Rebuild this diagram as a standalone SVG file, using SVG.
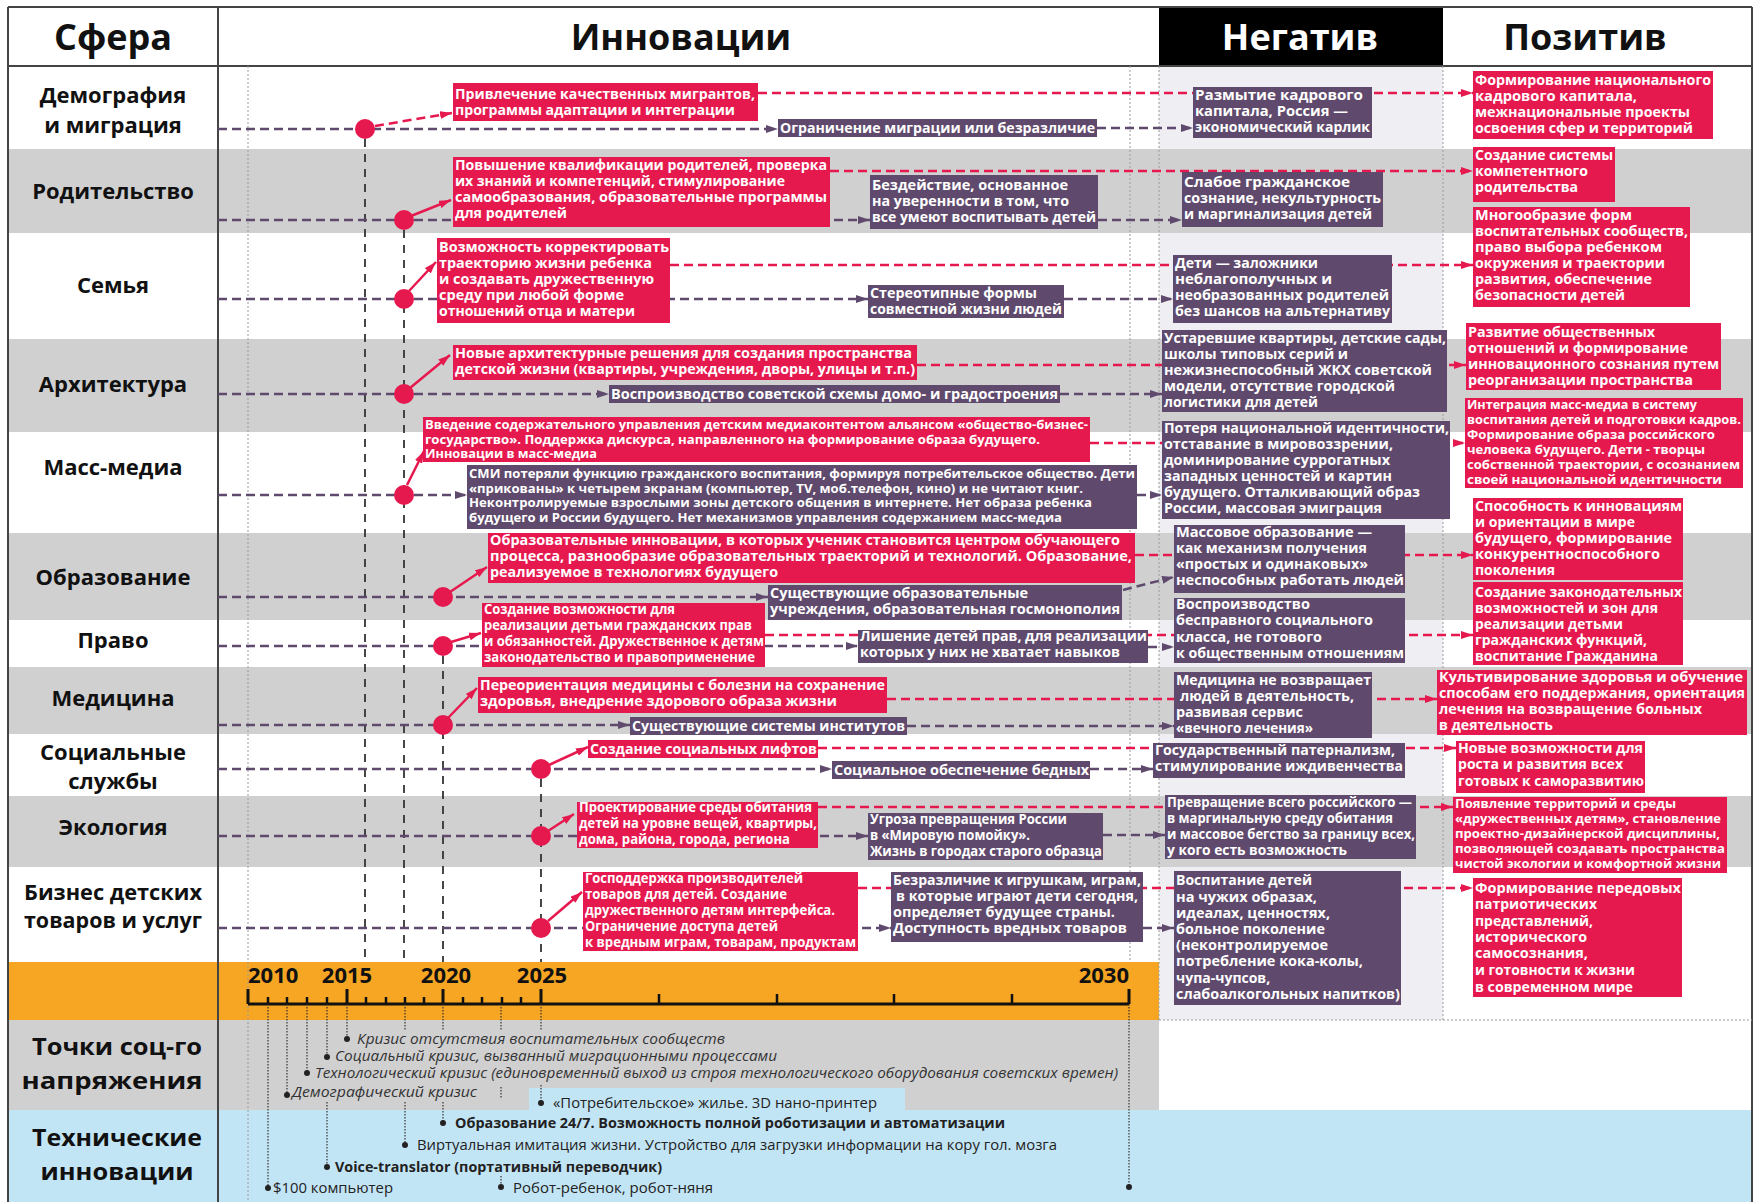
<svg xmlns="http://www.w3.org/2000/svg" width="1758" height="1202" viewBox="0 0 1758 1202">
<style>
.lbl{font-family:'Open Sans','Noto Sans',sans-serif;font-weight:700;font-size:22px;fill:#111;text-anchor:middle}
.lbl2{font-family:'Open Sans','Noto Sans',sans-serif;font-weight:700;font-size:24px;fill:#111;text-anchor:middle}
.hdr{font-family:'Open Sans','Noto Sans',sans-serif;font-weight:700;font-size:36px;fill:#111;text-anchor:middle}
.t{font-family:'Open Sans','Noto Sans',sans-serif;font-weight:700;font-size:14px;fill:#fff}
.ts{font-size:12.5px}
.tm{font-size:13px}
.r{fill:#e6194f}
.p{fill:#5f4a6d}
.yr{font-family:'Open Sans','Noto Sans',sans-serif;font-weight:700;font-size:22px;fill:#111}
.it{font-family:'Open Sans','Noto Sans',sans-serif;font-style:italic;font-size:15px;fill:#333}
.tr{font-family:'Open Sans','Noto Sans',sans-serif;font-size:15px;fill:#222}
.tb{font-weight:700}
.pd{fill:none;stroke:#5f4a6d;stroke-width:2.5;stroke-dasharray:9 5}
.rd{fill:none;stroke:#e6194f;stroke-width:2.5;stroke-dasharray:9 5}
.rs{fill:none;stroke:#e6194f;stroke-width:2.5}
.vd{fill:none;stroke:#333;stroke-width:1.8;stroke-dasharray:8 7}
.ld{fill:none;stroke:#9a9a9a;stroke-width:1;stroke-dasharray:2 2}
.dd{fill:none;stroke:#333;stroke-width:1.2;stroke-dasharray:1.5 1.5}
.dot{fill:#e6194f}
.sd{fill:#222}
</style>
<defs>
<marker id="ap" markerUnits="userSpaceOnUse" markerWidth="12" markerHeight="8" refX="12" refY="4" orient="auto"><path d="M0,0L12,4L0,8z" fill="#5f4a6d"/></marker>
<marker id="ar" markerUnits="userSpaceOnUse" markerWidth="12" markerHeight="8" refX="12" refY="4" orient="auto"><path d="M0,0L12,4L0,8z" fill="#e6194f"/></marker>
</defs>

<g id="background">
<rect x="8" y="7" width="1744" height="1195" fill="#fff"/>
<rect x="1159" y="66" width="284" height="954" fill="#efeef2"/>
<rect x="8" y="149" width="1744" height="84" fill="#d0d0d1"/>
<rect x="8" y="339" width="1744" height="93" fill="#d0d0d1"/>
<rect x="8" y="533" width="1744" height="87" fill="#d0d0d1"/>
<rect x="8" y="667" width="1744" height="67" fill="#d0d0d1"/>
<rect x="8" y="796" width="1744" height="71" fill="#d0d0d1"/>
<rect x="8" y="962" width="1151" height="58" fill="#f6a623"/>
<rect x="8" y="1020" width="1151" height="90" fill="#d0d0d1"/>
<rect x="8" y="1110" width="1744" height="92" fill="#c2e5f5"/>
<rect x="529" y="1088" width="376" height="23" fill="#c2e5f5"/>
<rect x="1159" y="7" width="284" height="59" fill="#000"/>
<path d="M8,7H1752M8,66H1752M8,7V1202M1752,7V1202M218,7V1202" fill="none" stroke="#444" stroke-width="2"/>
<path class="ld" d="M248,66V1202M1130,66V962M1159,66V1020M1443,66V1020M1159,1020H1752"/>
</g>

<g id="headers">
<text class="hdr" x="113" y="50">Сфера</text>
<text class="hdr" x="681" y="50">Инновации</text>
<text class="hdr" x="1300" y="50" style="fill:#fff">Негатив</text>
<text class="hdr" x="1585" y="50">Позитив</text>
</g>

<g id="row-labels">
<text class="lbl" x="113" y="103">Демография</text>
<text class="lbl" x="113" y="133">и миграция</text>
<text class="lbl" x="113" y="199">Родительство</text>
<text class="lbl" x="113" y="293">Семья</text>
<text class="lbl" x="113" y="392">Архитектура</text>
<text class="lbl" x="113" y="475">Масс-медиа</text>
<text class="lbl" x="113" y="585">Образование</text>
<text class="lbl" x="113" y="648">Право</text>
<text class="lbl" x="113" y="706">Медицина</text>
<text class="lbl" x="113" y="760">Социальные</text>
<text class="lbl" x="113" y="789">службы</text>
<text class="lbl" x="113" y="835">Экология</text>
<text class="lbl" x="113" y="900" textLength="178" lengthAdjust="spacingAndGlyphs">Бизнес детских</text>
<text class="lbl" x="113" y="928" textLength="178" lengthAdjust="spacingAndGlyphs">товаров и услуг</text>
<text class="lbl2" x="117" y="1055" textLength="170" lengthAdjust="spacingAndGlyphs">Точки соц-го</text>
<text class="lbl2" x="112" y="1089" textLength="181" lengthAdjust="spacingAndGlyphs">напряжения</text>
<text class="lbl2" x="117" y="1146" textLength="170" lengthAdjust="spacingAndGlyphs">Технические</text>
<text class="lbl2" x="117" y="1180" textLength="153" lengthAdjust="spacingAndGlyphs">инновации</text>
</g>

<g id="timeline">
<path d="M248,1004H1129" stroke="#111" stroke-width="3"/>
<path d="M248,989V1004M347,989V1004M443,989V1004M541,989V1004M1129,989V1004" stroke="#111" stroke-width="3"/>
<path d="M268,997V1004M287,997V1004M307,997V1004M327,997V1004M366,997V1004M386,997V1004M405,997V1004M424,997V1004M463,997V1004M482,997V1004M502,997V1004M521,997V1004M659,994V1004M777,994V1004M894,994V1004M1012,994V1004" stroke="#111" stroke-width="2.5"/>
<text class="yr" x="248" y="983">2010</text>
<text class="yr" x="347" y="983" text-anchor="middle">2015</text>
<text class="yr" x="446" y="983" text-anchor="middle">2020</text>
<text class="yr" x="542" y="983" text-anchor="middle">2025</text>
<text class="yr" x="1129" y="983" text-anchor="end">2030</text>
</g>

<g id="connectors">
<path class="vd" d="M365,139V962M404,230V962M443,656V962M541,779V962"/>
<path class="dd" d="M268,1004V1188M287,1004V1095M307,1004V1073M327,1004V1057M327,1102V1167M347,1004V1039M405,1004V1030M405,1102V1145M443,1004V1030M443,1102V1123M501,1004V1031M501,1087V1098M501,1176V1187M541,1004V1030M541,1085V1103M1129,1004V1187"/>
<path class="rd" marker-end="url(#ar)" d="M758,93H1473"/>
<path class="rd" marker-end="url(#ar)" d="M830,171H1473"/>
<path class="rd" marker-end="url(#ar)" d="M670,265H1473"/>
<path class="rd" marker-end="url(#ar)" d="M917,365H1466"/>
<path class="rd" marker-end="url(#ar)" d="M1090,443H1465"/>
<path class="rd" marker-end="url(#ar)" d="M1135,555H1473"/>
<path class="rd" marker-end="url(#ar)" d="M765,635H1473"/>
<path class="rd" marker-end="url(#ar)" d="M887,699H1437"/>
<path class="rd" marker-end="url(#ar)" d="M818,748H1456"/>
<path class="rd" marker-end="url(#ar)" d="M818,807H1453"/>
<path class="rd" marker-end="url(#ar)" d="M858,888H1473"/>
<path class="pd" marker-end="url(#ap)" d="M218,129H778"/>
<path class="pd" marker-end="url(#ap)" d="M1097,128H1193"/>
<path class="pd" marker-end="url(#ap)" d="M218,220H870"/>
<path class="pd" marker-end="url(#ap)" d="M1098,220H1182"/>
<path class="pd" marker-end="url(#ap)" d="M218,299H868"/>
<path class="pd" marker-end="url(#ap)" d="M1064,299H1173"/>
<path class="pd" marker-end="url(#ap)" d="M218,394H609"/>
<path class="pd" marker-end="url(#ap)" d="M1060,394H1162"/>
<path class="pd" marker-end="url(#ap)" d="M218,495H467"/>
<path class="pd" marker-end="url(#ap)" d="M1137,495H1162"/>
<path class="pd" marker-end="url(#ap)" d="M218,597H768"/>
<path class="pd" marker-end="url(#ap)" d="M1123,590L1174,577"/>
<path class="pd" marker-end="url(#ap)" d="M218,646H858"/>
<path class="pd" marker-end="url(#ap)" d="M1148,647H1174"/>
<path class="pd" marker-end="url(#ap)" d="M218,725H630"/>
<path class="pd" marker-end="url(#ap)" d="M907,726H1174"/>
<path class="pd" marker-end="url(#ap)" d="M218,769H832"/>
<path class="pd" marker-end="url(#ap)" d="M1090,769H1153"/>
<path class="pd" marker-end="url(#ap)" d="M218,836H868"/>
<path class="pd" marker-end="url(#ap)" d="M1103,835H1165"/>
<path class="pd" marker-end="url(#ap)" d="M218,928H891"/>
<path class="pd" marker-end="url(#ap)" d="M1143,928H1174"/>
<path class="rd" marker-end="url(#ar)" d="M375,126L452,113"/>
<path class="rs" marker-end="url(#ar)" d="M411,216L451,200"/>
<path class="rs" marker-end="url(#ar)" d="M409,291L436,262"/>
<path class="rs" marker-end="url(#ar)" d="M410,388L450,355"/>
<path class="rs" marker-end="url(#ar)" d="M407,485L424,451"/>
<path class="rs" marker-end="url(#ar)" d="M450,592L487,567"/>
<path class="rs" marker-end="url(#ar)" d="M451,642L481,633"/>
<path class="rs" marker-end="url(#ar)" d="M448,718L477,688"/>
<path class="rs" marker-end="url(#ar)" d="M549,765L588,747"/>
<path class="rs" marker-end="url(#ar)" d="M548,831L574,814"/>
<path class="rs" marker-end="url(#ar)" d="M548,921L582,892"/>
</g>

<g id="dots">
<circle class="dot" cx="365" cy="129" r="10"/>
<circle class="dot" cx="404" cy="220" r="10"/>
<circle class="dot" cx="404" cy="299" r="10"/>
<circle class="dot" cx="404" cy="394" r="10"/>
<circle class="dot" cx="404" cy="495" r="10"/>
<circle class="dot" cx="443" cy="597" r="10"/>
<circle class="dot" cx="443" cy="646" r="10"/>
<circle class="dot" cx="443" cy="725" r="10"/>
<circle class="dot" cx="541" cy="769" r="10"/>
<circle class="dot" cx="541" cy="836" r="10"/>
<circle class="dot" cx="541" cy="928" r="10"/>
</g>

<g id="inn-dem"><rect class="r" x="453" y="83" width="305" height="38"/>
<text class="t" x="455" y="99" textLength="300" lengthAdjust="spacingAndGlyphs">Привлечение качественных мигрантов,</text>
<text class="t" x="455" y="115" textLength="280" lengthAdjust="spacingAndGlyphs">программы адаптации и интеграции</text></g>
<g id="alt-dem"><rect class="p" x="778" y="119" width="319" height="18"/>
<text class="t" x="780" y="133" textLength="315" lengthAdjust="spacingAndGlyphs">Ограничение миграции или безразличие</text></g>
<g id="neg-dem"><rect class="p" x="1193" y="87" width="179" height="51"/>
<text class="t" x="1195" y="100" textLength="168" lengthAdjust="spacingAndGlyphs">Размытие кадрового</text>
<text class="t" x="1195" y="116" textLength="153" lengthAdjust="spacingAndGlyphs">капитала, Россия —</text>
<text class="t" x="1195" y="132" textLength="175" lengthAdjust="spacingAndGlyphs">экономический карлик</text></g>
<g id="pos-dem"><rect class="r" x="1473" y="71" width="240" height="68"/>
<text class="t" x="1475" y="85" textLength="236" lengthAdjust="spacingAndGlyphs">Формирование национального</text>
<text class="t" x="1475" y="101" textLength="162" lengthAdjust="spacingAndGlyphs">кадрового капитала,</text>
<text class="t" x="1475" y="117" textLength="215" lengthAdjust="spacingAndGlyphs">межнациональные проекты</text>
<text class="t" x="1475" y="133" textLength="218" lengthAdjust="spacingAndGlyphs">освоения сфер и территорий</text></g>

<g id="inn-par"><rect class="r" x="453" y="157" width="377" height="70"/>
<text class="t" x="455" y="170" textLength="372" lengthAdjust="spacingAndGlyphs">Повышение квалификации родителей, проверка</text>
<text class="t" x="455" y="186" textLength="330" lengthAdjust="spacingAndGlyphs">их знаний и компетенций, стимулирование</text>
<text class="t" x="455" y="202" textLength="372" lengthAdjust="spacingAndGlyphs">самообразования, образовательные программы</text>
<text class="t" x="455" y="218" textLength="112" lengthAdjust="spacingAndGlyphs">для родителей</text></g>
<g id="alt-par"><rect class="p" x="870" y="175" width="228" height="54"/>
<text class="t" x="872" y="190" textLength="196" lengthAdjust="spacingAndGlyphs">Бездействие, основанное</text>
<text class="t" x="872" y="206" textLength="197" lengthAdjust="spacingAndGlyphs">на уверенности в том, что</text>
<text class="t" x="872" y="222" textLength="224" lengthAdjust="spacingAndGlyphs">все умеют воспитывать детей</text></g>
<g id="neg-par"><rect class="p" x="1182" y="172" width="201" height="55"/>
<text class="t" x="1184" y="187" textLength="166" lengthAdjust="spacingAndGlyphs">Слабое гражданское</text>
<text class="t" x="1184" y="203" textLength="197" lengthAdjust="spacingAndGlyphs">сознание, некультурность</text>
<text class="t" x="1184" y="219" textLength="188" lengthAdjust="spacingAndGlyphs">и маргинализация детей</text></g>
<g id="pos-par"><rect class="r" x="1473" y="147" width="142" height="55"/>
<text class="t" x="1475" y="160" textLength="138" lengthAdjust="spacingAndGlyphs">Создание системы</text>
<text class="t" x="1475" y="176" textLength="113" lengthAdjust="spacingAndGlyphs">компетентного</text>
<text class="t" x="1475" y="192" textLength="103" lengthAdjust="spacingAndGlyphs">родительства</text></g>

<g id="inn-fam"><rect class="r" x="437" y="238" width="233" height="85"/>
<text class="t" x="439" y="252" textLength="230" lengthAdjust="spacingAndGlyphs">Возможность корректировать</text>
<text class="t" x="439" y="268" textLength="213" lengthAdjust="spacingAndGlyphs">траекторию жизни ребенка</text>
<text class="t" x="439" y="284" textLength="215" lengthAdjust="spacingAndGlyphs">и создавать дружественную</text>
<text class="t" x="439" y="300" textLength="185" lengthAdjust="spacingAndGlyphs">среду при любой форме</text>
<text class="t" x="439" y="316" textLength="196" lengthAdjust="spacingAndGlyphs">отношений отца и матери</text></g>
<g id="alt-fam"><rect class="p" x="868" y="285" width="196" height="33"/>
<text class="t" x="870" y="298" textLength="167" lengthAdjust="spacingAndGlyphs">Стереотипные формы</text>
<text class="t" x="870" y="314" textLength="192" lengthAdjust="spacingAndGlyphs">совместной жизни людей</text></g>
<g id="neg-fam"><rect class="p" x="1173" y="255" width="219" height="68"/>
<text class="t" x="1175" y="268" textLength="143" lengthAdjust="spacingAndGlyphs">Дети — заложники</text>
<text class="t" x="1175" y="284" textLength="157" lengthAdjust="spacingAndGlyphs">неблагополучных и</text>
<text class="t" x="1175" y="300" textLength="214" lengthAdjust="spacingAndGlyphs">необразованных родителей</text>
<text class="t" x="1175" y="316" textLength="215" lengthAdjust="spacingAndGlyphs">без шансов на альтернативу</text></g>
<g id="pos-fam"><rect class="r" x="1473" y="207" width="217" height="100"/>
<text class="t" x="1475" y="220" textLength="157" lengthAdjust="spacingAndGlyphs">Многообразие форм</text>
<text class="t" x="1475" y="236" textLength="213" lengthAdjust="spacingAndGlyphs">воспитательных сообществ,</text>
<text class="t" x="1475" y="252" textLength="187" lengthAdjust="spacingAndGlyphs">право выбора ребенком</text>
<text class="t" x="1475" y="268" textLength="190" lengthAdjust="spacingAndGlyphs">окружения и траектории</text>
<text class="t" x="1475" y="284" textLength="177" lengthAdjust="spacingAndGlyphs">развития, обеспечение</text>
<text class="t" x="1475" y="300" textLength="150" lengthAdjust="spacingAndGlyphs">безопасности детей</text></g>

<g id="inn-arch"><rect class="r" x="453" y="345" width="464" height="35"/>
<text class="t" x="455" y="358" textLength="457" lengthAdjust="spacingAndGlyphs">Новые архитектурные решения для создания пространства</text>
<text class="t" x="455" y="374" textLength="460" lengthAdjust="spacingAndGlyphs">детской жизни (квартиры, учреждения, дворы, улицы и т.п.)</text></g>
<g id="alt-arch"><rect class="p" x="609" y="385" width="451" height="18"/>
<text class="t" x="611" y="399" textLength="447" lengthAdjust="spacingAndGlyphs">Воспроизводство советской схемы домо- и градостроения</text></g>
<g id="neg-arch"><rect class="p" x="1162" y="330" width="285" height="82"/>
<text class="t" x="1164" y="343" textLength="282" lengthAdjust="spacingAndGlyphs">Устаревшие квартиры, детские сады,</text>
<text class="t" x="1164" y="359" textLength="184" lengthAdjust="spacingAndGlyphs">школы типовых серий и</text>
<text class="t" x="1164" y="375" textLength="268" lengthAdjust="spacingAndGlyphs">нежизнеспособный ЖКХ советской</text>
<text class="t" x="1164" y="391" textLength="231" lengthAdjust="spacingAndGlyphs">модели, отсутствие городской</text>
<text class="t" x="1164" y="407" textLength="154" lengthAdjust="spacingAndGlyphs">логистики для детей</text></g>
<g id="pos-arch"><rect class="r" x="1466" y="323" width="255" height="67"/>
<text class="t" x="1468" y="337" textLength="187" lengthAdjust="spacingAndGlyphs">Развитие общественных</text>
<text class="t" x="1468" y="353" textLength="220" lengthAdjust="spacingAndGlyphs">отношений и формирование</text>
<text class="t" x="1468" y="369" textLength="251" lengthAdjust="spacingAndGlyphs">инновационного сознания путем</text>
<text class="t" x="1468" y="385" textLength="225" lengthAdjust="spacingAndGlyphs">реорганизации пространства</text></g>

<g id="inn-media"><rect class="r" x="423" y="417" width="667" height="45"/>
<text class="t ts" x="425" y="429" textLength="663" lengthAdjust="spacingAndGlyphs">Введение содержательного управления детским медиаконтентом альянсом «общество-бизнес-</text>
<text class="t ts" x="425" y="444" textLength="615" lengthAdjust="spacingAndGlyphs">государство». Поддержка дискурса, направленного на формирование  образа будущего.</text>
<text class="t ts" x="425" y="458" textLength="172" lengthAdjust="spacingAndGlyphs">Инновации в масс-медиа</text></g>
<g id="alt-media"><rect class="p" x="467" y="465" width="670" height="64"/>
<text class="t ts" x="469" y="478" textLength="666" lengthAdjust="spacingAndGlyphs">СМИ потеряли функцию гражданского воспитания, формируя потребительское общество. Дети</text>
<text class="t ts" x="469" y="493" textLength="614" lengthAdjust="spacingAndGlyphs">«прикованы» к четырем экранам (компьютер,  TV, моб.телефон, кино) и не читают книг.</text>
<text class="t ts" x="469" y="507" textLength="623" lengthAdjust="spacingAndGlyphs">Неконтролируемые взрослыми зоны детского общения в интернете. Нет образа ребенка</text>
<text class="t ts" x="469" y="522" textLength="593" lengthAdjust="spacingAndGlyphs">будущего и России будущего. Нет механизмов управления содержанием масс-медиа</text></g>
<g id="neg-media"><rect class="p" x="1162" y="421" width="288" height="98"/>
<text class="t" x="1164" y="433" textLength="285" lengthAdjust="spacingAndGlyphs">Потеря национальной идентичности,</text>
<text class="t" x="1164" y="449" textLength="229" lengthAdjust="spacingAndGlyphs">отставание в мировоззрении,</text>
<text class="t" x="1164" y="465" textLength="226" lengthAdjust="spacingAndGlyphs">доминирование суррогатных</text>
<text class="t" x="1164" y="481" textLength="228" lengthAdjust="spacingAndGlyphs">западных ценностей и картин</text>
<text class="t" x="1164" y="497" textLength="256" lengthAdjust="spacingAndGlyphs">будущего. Отталкивающий образ</text>
<text class="t" x="1164" y="513" textLength="218" lengthAdjust="spacingAndGlyphs">России, массовая эмиграция</text></g>
<g id="pos-media"><rect class="r" x="1465" y="398" width="278" height="90"/>
<text class="t ts" x="1467" y="409" textLength="230" lengthAdjust="spacingAndGlyphs">Интеграция масс-медиа в систему</text>
<text class="t ts" x="1467" y="424" textLength="274" lengthAdjust="spacingAndGlyphs">воспитания детей и подготовки кадров.</text>
<text class="t ts" x="1467" y="439" textLength="248" lengthAdjust="spacingAndGlyphs">Формирование образа российского</text>
<text class="t ts" x="1467" y="454" textLength="238" lengthAdjust="spacingAndGlyphs">человека будущего. Дети - творцы</text>
<text class="t ts" x="1467" y="469" textLength="273" lengthAdjust="spacingAndGlyphs">собственной траектории, с осознанием</text>
<text class="t ts" x="1467" y="484" textLength="255" lengthAdjust="spacingAndGlyphs">своей национальной идентичности</text></g>

<g id="inn-edu"><rect class="r" x="488" y="533" width="647" height="50"/>
<text class="t" x="490" y="545" textLength="630" lengthAdjust="spacingAndGlyphs">Образовательные инновации, в которых ученик становится центром обучающего</text>
<text class="t" x="490" y="561" textLength="642" lengthAdjust="spacingAndGlyphs">процесса, разнообразие образовательных траекторий и технологий. Образование,</text>
<text class="t" x="490" y="577" textLength="288" lengthAdjust="spacingAndGlyphs">реализуемое в технологиях будущего</text></g>
<g id="alt-edu"><rect class="p" x="768" y="585" width="354" height="35"/>
<text class="t" x="770" y="598" textLength="258" lengthAdjust="spacingAndGlyphs">Существующие образовательные</text>
<text class="t" x="770" y="614" textLength="350" lengthAdjust="spacingAndGlyphs">учреждения, образовательная госмонополия</text></g>
<g id="neg-edu"><rect class="p" x="1174" y="525" width="231" height="68"/>
<text class="t" x="1176" y="537" textLength="196" lengthAdjust="spacingAndGlyphs">Массовое образование —</text>
<text class="t" x="1176" y="553" textLength="191" lengthAdjust="spacingAndGlyphs">как механизм получения</text>
<text class="t" x="1176" y="569" textLength="192" lengthAdjust="spacingAndGlyphs">«простых и одинаковых»</text>
<text class="t" x="1176" y="585" textLength="228" lengthAdjust="spacingAndGlyphs">неспособных работать людей</text></g>
<g id="pos-edu"><rect class="r" x="1473" y="498" width="210" height="82"/>
<text class="t" x="1475" y="511" textLength="207" lengthAdjust="spacingAndGlyphs">Способность к инновациям</text>
<text class="t" x="1475" y="527" textLength="160" lengthAdjust="spacingAndGlyphs">и ориентации в мире</text>
<text class="t" x="1475" y="543" textLength="197" lengthAdjust="spacingAndGlyphs">будущего, формирование</text>
<text class="t" x="1475" y="559" textLength="185" lengthAdjust="spacingAndGlyphs">конкурентноспособного</text>
<text class="t" x="1475" y="575" textLength="80" lengthAdjust="spacingAndGlyphs">поколения</text></g>

<g id="inn-law"><rect class="r" x="482" y="603" width="283" height="64"/>
<text class="t" x="484" y="614" textLength="191" lengthAdjust="spacingAndGlyphs">Создание возможности для</text>
<text class="t" x="484" y="630" textLength="268" lengthAdjust="spacingAndGlyphs">реализации детьми гражданских прав</text>
<text class="t" x="484" y="646" textLength="280" lengthAdjust="spacingAndGlyphs">и обязанностей. Дружественное к детям</text>
<text class="t" x="484" y="662" textLength="271" lengthAdjust="spacingAndGlyphs">законодательство и правоприменение</text></g>
<g id="alt-law"><rect class="p" x="858" y="630" width="290" height="33"/>
<text class="t" x="860" y="641" textLength="287" lengthAdjust="spacingAndGlyphs">Лишение детей прав, для реализации</text>
<text class="t" x="860" y="657" textLength="260" lengthAdjust="spacingAndGlyphs">которых у них не хватает навыков</text></g>
<g id="neg-law"><rect class="p" x="1174" y="598" width="231" height="65"/>
<text class="t" x="1176" y="609" textLength="134" lengthAdjust="spacingAndGlyphs">Воспроизводство</text>
<text class="t" x="1176" y="625" textLength="197" lengthAdjust="spacingAndGlyphs">бесправного социального</text>
<text class="t" x="1176" y="642" textLength="146" lengthAdjust="spacingAndGlyphs">класса, не готового</text>
<text class="t" x="1176" y="658" textLength="228" lengthAdjust="spacingAndGlyphs">к общественным отношениям</text></g>
<g id="pos-law"><rect class="r" x="1473" y="582" width="210" height="83"/>
<text class="t" x="1475" y="597" textLength="207" lengthAdjust="spacingAndGlyphs">Создание законодательных</text>
<text class="t" x="1475" y="613" textLength="183" lengthAdjust="spacingAndGlyphs">возможностей и зон для</text>
<text class="t" x="1475" y="629" textLength="148" lengthAdjust="spacingAndGlyphs">реализации детьми</text>
<text class="t" x="1475" y="645" textLength="172" lengthAdjust="spacingAndGlyphs">гражданских функций,</text>
<text class="t" x="1475" y="661" textLength="183" lengthAdjust="spacingAndGlyphs">воспитание Гражданина</text></g>

<g id="inn-med"><rect class="r" x="478" y="677" width="409" height="36"/>
<text class="t" x="480" y="690" textLength="405" lengthAdjust="spacingAndGlyphs">Переориентация медицины с болезни на сохранение</text>
<text class="t" x="480" y="706" textLength="357" lengthAdjust="spacingAndGlyphs">здоровья, внедрение здорового образа жизни</text></g>
<g id="alt-med"><rect class="p" x="630" y="717" width="277" height="18"/>
<text class="t" x="632" y="731" textLength="273" lengthAdjust="spacingAndGlyphs">Существующие системы институтов</text></g>
<g id="neg-med"><rect class="p" x="1174" y="672" width="198" height="66"/>
<text class="t" x="1176" y="685" textLength="195" lengthAdjust="spacingAndGlyphs">Медицина не возвращает</text>
<text class="t" x="1180" y="701" textLength="174" lengthAdjust="spacingAndGlyphs">людей в деятельность,</text>
<text class="t" x="1176" y="717" textLength="127" lengthAdjust="spacingAndGlyphs">развивая сервис</text>
<text class="t" x="1176" y="733" textLength="137" lengthAdjust="spacingAndGlyphs">«вечного лечения»</text></g>
<g id="pos-med"><rect class="r" x="1437" y="670" width="310" height="65"/>
<text class="t" x="1439" y="682" textLength="304" lengthAdjust="spacingAndGlyphs">Культивирование здоровья  и обучение</text>
<text class="t" x="1439" y="698" textLength="306" lengthAdjust="spacingAndGlyphs">способам его поддержания, ориентация</text>
<text class="t" x="1439" y="714" textLength="263" lengthAdjust="spacingAndGlyphs">лечения на возвращение больных</text>
<text class="t" x="1439" y="730" textLength="114" lengthAdjust="spacingAndGlyphs">в деятельность</text></g>

<g id="inn-soc"><rect class="r" x="588" y="740" width="230" height="18"/>
<text class="t" x="590" y="754" textLength="227" lengthAdjust="spacingAndGlyphs">Создание социальных лифтов</text></g>
<g id="alt-soc"><rect class="p" x="832" y="761" width="258" height="18"/>
<text class="t" x="834" y="775" textLength="255" lengthAdjust="spacingAndGlyphs">Социальное обеспечение бедных</text></g>
<g id="neg-soc"><rect class="p" x="1153" y="743" width="252" height="35"/>
<text class="t" x="1155" y="755" textLength="240" lengthAdjust="spacingAndGlyphs">Государственный патернализм,</text>
<text class="t" x="1155" y="771" textLength="248" lengthAdjust="spacingAndGlyphs">стимулирование иждивенчества</text></g>
<g id="pos-soc"><rect class="r" x="1456" y="741" width="189" height="52"/>
<text class="t" x="1458" y="753" textLength="185" lengthAdjust="spacingAndGlyphs">Новые возможности для</text>
<text class="t" x="1458" y="769" textLength="165" lengthAdjust="spacingAndGlyphs">роста и развития всех</text>
<text class="t" x="1458" y="786" textLength="186" lengthAdjust="spacingAndGlyphs">готовых к саморазвитию</text></g>

<g id="inn-eco"><rect class="r" x="577" y="802" width="241" height="46"/>
<text class="t" x="579" y="812" textLength="233" lengthAdjust="spacingAndGlyphs">Проектирование среды обитания</text>
<text class="t" x="579" y="828" textLength="238" lengthAdjust="spacingAndGlyphs">детей на уровне вещей, квартиры,</text>
<text class="t" x="579" y="844" textLength="211" lengthAdjust="spacingAndGlyphs">дома, района, города, региона</text></g>
<g id="alt-eco"><rect class="p" x="868" y="813" width="235" height="47"/>
<text class="t" x="870" y="824" textLength="197" lengthAdjust="spacingAndGlyphs">Угроза превращения России</text>
<text class="t" x="870" y="840" textLength="160" lengthAdjust="spacingAndGlyphs">в «Мировую помойку».</text>
<text class="t" x="870" y="856" textLength="232" lengthAdjust="spacingAndGlyphs">Жизнь в городах старого образца</text></g>
<g id="neg-eco"><rect class="p" x="1165" y="795" width="251" height="64"/>
<text class="t" x="1167" y="807" textLength="245" lengthAdjust="spacingAndGlyphs">Превращение всего российского —</text>
<text class="t" x="1167" y="823" textLength="226" lengthAdjust="spacingAndGlyphs">в маргинальную среду обитания</text>
<text class="t" x="1167" y="839" textLength="248" lengthAdjust="spacingAndGlyphs">и массовое бегство за границу всех,</text>
<text class="t" x="1167" y="855" textLength="180" lengthAdjust="spacingAndGlyphs">у кого есть возможность</text></g>
<g id="pos-eco"><rect class="r" x="1453" y="797" width="274" height="76"/>
<text class="t tm" x="1455" y="808" textLength="221" lengthAdjust="spacingAndGlyphs">Появление территорий и среды</text>
<text class="t tm" x="1455" y="823" textLength="266" lengthAdjust="spacingAndGlyphs">«дружественных детям», становление</text>
<text class="t tm" x="1455" y="838" textLength="265" lengthAdjust="spacingAndGlyphs">проектно-дизайнерской дисциплины,</text>
<text class="t tm" x="1455" y="853" textLength="270" lengthAdjust="spacingAndGlyphs">позволяющей создавать пространства</text>
<text class="t tm" x="1455" y="868" textLength="266" lengthAdjust="spacingAndGlyphs">чистой экологии и комфортной жизни</text></g>

<g id="inn-biz"><rect class="r" x="583" y="872" width="275" height="79"/>
<text class="t" x="585" y="883" textLength="218" lengthAdjust="spacingAndGlyphs">Господдержка производителей</text>
<text class="t" x="585" y="899" textLength="202" lengthAdjust="spacingAndGlyphs">товаров для детей. Создание</text>
<text class="t" x="585" y="915" textLength="250" lengthAdjust="spacingAndGlyphs">дружественного детям интерфейса.</text>
<text class="t" x="585" y="931" textLength="193" lengthAdjust="spacingAndGlyphs">Ограничение доступа детей</text>
<text class="t" x="585" y="947" textLength="271" lengthAdjust="spacingAndGlyphs">к  вредным играм, товарам, продуктам</text></g>
<g id="alt-biz"><rect class="p" x="891" y="872" width="252" height="70"/>
<text class="t" x="893" y="885" textLength="248" lengthAdjust="spacingAndGlyphs">Безразличие к игрушкам, играм,</text>
<text class="t" x="896" y="901" textLength="242" lengthAdjust="spacingAndGlyphs">в которые играют дети сегодня,</text>
<text class="t" x="893" y="917" textLength="222" lengthAdjust="spacingAndGlyphs">определяет будущее страны.</text>
<text class="t" x="893" y="933" textLength="234" lengthAdjust="spacingAndGlyphs">Доступность вредных товаров</text></g>
<g id="neg-biz"><rect class="p" x="1174" y="871" width="227" height="134"/>
<text class="t" x="1176" y="885" textLength="136" lengthAdjust="spacingAndGlyphs">Воспитание детей</text>
<text class="t" x="1176" y="902" textLength="141" lengthAdjust="spacingAndGlyphs">на чужих образах,</text>
<text class="t" x="1176" y="918" textLength="154" lengthAdjust="spacingAndGlyphs">идеалах, ценностях,</text>
<text class="t" x="1176" y="934" textLength="149" lengthAdjust="spacingAndGlyphs">больное поколение</text>
<text class="t" x="1176" y="950" textLength="152" lengthAdjust="spacingAndGlyphs">(неконтролируемое</text>
<text class="t" x="1176" y="966" textLength="187" lengthAdjust="spacingAndGlyphs">потребление кока-колы,</text>
<text class="t" x="1176" y="983">чупа-чупсов,</text>
<text class="t" x="1176" y="999" textLength="224" lengthAdjust="spacingAndGlyphs">слабоалкогольных напитков)</text></g>
<g id="pos-biz"><rect class="r" x="1473" y="878" width="209" height="119"/>
<text class="t" x="1475" y="893" textLength="206" lengthAdjust="spacingAndGlyphs">Формирование передовых</text>
<text class="t" x="1475" y="909" textLength="122" lengthAdjust="spacingAndGlyphs">патриотических</text>
<text class="t" x="1475" y="926" textLength="118" lengthAdjust="spacingAndGlyphs">представлений,</text>
<text class="t" x="1475" y="942" textLength="112" lengthAdjust="spacingAndGlyphs">исторического</text>
<text class="t" x="1475" y="958" textLength="113" lengthAdjust="spacingAndGlyphs">самосознания,</text>
<text class="t" x="1475" y="975" textLength="160" lengthAdjust="spacingAndGlyphs">и готовности к жизни</text>
<text class="t" x="1475" y="992" textLength="158" lengthAdjust="spacingAndGlyphs">в современном мире</text></g>

<g id="tension-points">
<circle class="sd" cx="347" cy="1039" r="3"/>
<text class="it" x="357" y="1044" textLength="368" lengthAdjust="spacingAndGlyphs">Кризис отсутствия воспитательных сообществ</text>
<circle class="sd" cx="327" cy="1057" r="3"/>
<text class="it" x="335" y="1061" textLength="442" lengthAdjust="spacingAndGlyphs">Социальный кризис, вызванный миграционными процессами</text>
<circle class="sd" cx="307" cy="1073" r="3"/>
<text class="it" x="315" y="1078" textLength="803" lengthAdjust="spacingAndGlyphs">Технологический кризис (единовременный выход из строя  технологического оборудования советских времен)</text>
<circle class="sd" cx="287" cy="1095" r="3"/>
<text class="it" x="292" y="1097" textLength="185" lengthAdjust="spacingAndGlyphs">Демографический кризис</text>
</g>

<g id="tech-innovations">
<circle class="sd" cx="541" cy="1103" r="3"/>
<text class="tr" x="553" y="1108" textLength="324" lengthAdjust="spacingAndGlyphs">«Потребительское» жилье. 3D нано-принтер</text>
<circle class="sd" cx="443" cy="1123" r="3"/>
<text class="tr tb" x="455" y="1128" textLength="550" lengthAdjust="spacingAndGlyphs">Образование 24/7. Возможность  полной роботизации и автоматизации</text>
<circle class="sd" cx="405" cy="1145" r="3"/>
<text class="tr" x="417" y="1150" textLength="640" lengthAdjust="spacingAndGlyphs">Виртуальная имитация жизни. Устройство для загрузки информации на кору гол. мозга</text>
<circle class="sd" cx="327" cy="1167" r="3"/>
<text class="tr tb" x="335" y="1172" textLength="327" lengthAdjust="spacingAndGlyphs">Voice-translator (портативный переводчик)</text>
<circle class="sd" cx="268" cy="1188" r="3"/>
<text class="tr" x="273" y="1193" textLength="120" lengthAdjust="spacingAndGlyphs">$100 компьютер</text>
<circle class="sd" cx="501" cy="1187" r="3"/>
<text class="tr" x="513" y="1193" textLength="200" lengthAdjust="spacingAndGlyphs">Робот-ребенок, робот-няня</text>
<circle class="sd" cx="1129" cy="1187" r="3"/>
</g>
</svg>
